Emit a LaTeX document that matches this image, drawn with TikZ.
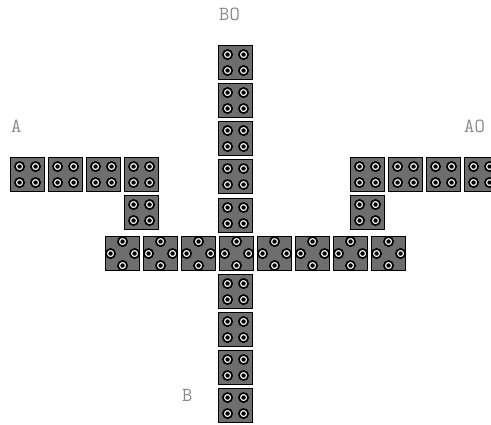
\documentclass[tikz,border=0pt]{standalone}
\usetikzlibrary{calc}
\definecolor{blockgray}{HTML}{6E6E6E}
\definecolor{labelgray}{HTML}{8A8A8A}
\tikzset{
  blk/.style={draw=black, line width=1.1pt, fill=blockgray, minimum width=34pt, minimum height=34pt, inner sep=0pt, anchor=north west},
  hole/.style={draw=black, line width=1.7pt, fill=white},
  lbl/.style={text=labelgray, font=\ttfamily\fontsize{20}{20}\selectfont, inner sep=0pt, anchor=base west}
}
\newcommand{\sqdots}[1]{%
  \foreach \dx/\dy in {-8/-8,8/-8,-8/8,8/8}{
    \filldraw[hole] ($(#1.center)+(\dx,\dy)$) circle (4.6pt);
    \fill[black] ($(#1.center)+(\dx,\dy)$) circle (2.2pt);
  }}
\newcommand{\crdots}[1]{%
  \foreach \dx/\dy in {0/-12,-12/0,12/0,0/12}{
    \filldraw[hole] ($(#1.center)+(\dx,\dy)$) circle (4.6pt);
    \fill[black] ($(#1.center)+(\dx,\dy)$) circle (2.2pt);
  }}
\begin{document}
\begin{tikzpicture}[x=1pt,y=-1pt]
\useasboundingbox (0,0) rectangle (491,425);
\clip (0,0) rectangle (491,425);
% central column, upper part
\foreach \i/\y in {1/45,2/83,3/121,4/159,5/198}{
  \node[blk] (u\i) at (218,\y) {};
  \sqdots{u\i}
}
% central column, lower part
\foreach \i/\y in {1/274,2/312,3/350,4/388}{
  \node[blk] (d\i) at (218,\y) {};
  \sqdots{d\i}
}
% horizontal row
\foreach \i in {1,...,8}{
  \pgfmathsetmacro{\xx}{105+38*(\i-1)}
  \node[blk] (r\i) at (\xx,236) {};
  \crdots{r\i}
}
% left arm
\foreach \i/\x in {1/10,2/48,3/86,4/124}{
  \node[blk] (l\i) at (\x,157) {};
  \sqdots{l\i}
}
\node[blk] (l5) at (124,195) {};
\sqdots{l5}
% right arm
\foreach \i/\x in {1/350,2/388,3/426,4/464}{
  \node[blk] (a\i) at (\x,157) {};
  \sqdots{a\i}
}
\node[blk] (a5) at (350,195) {};
\sqdots{a5}
% labels
\node[lbl] (tBO) at (219,21) {BO};
\node[lbl] (tA) at (11,133) {A};
\node[lbl] (tAO) at (464,133) {AO};
\node[lbl] (tB) at (182,402) {B};
\end{tikzpicture}
\end{document}
